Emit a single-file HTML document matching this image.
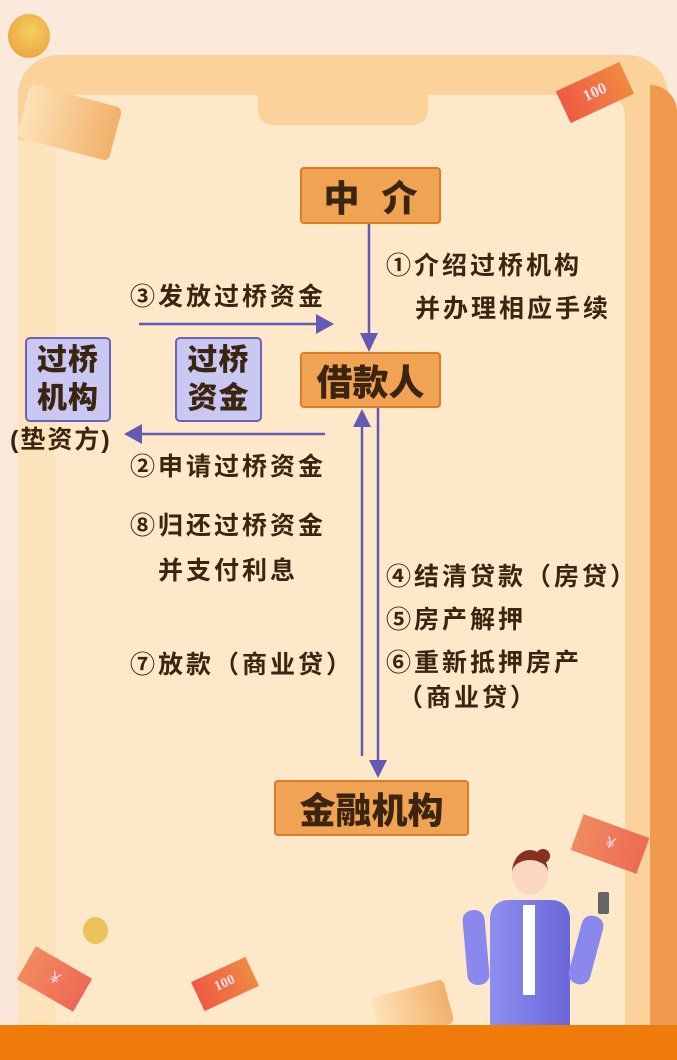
<!DOCTYPE html>
<html><head><meta charset="utf-8"><style>
*{margin:0;padding:0;box-sizing:border-box}
body{width:677px;height:1060px;position:relative;overflow:hidden;background:linear-gradient(180deg,#fbe9dc,#f9e6d8);font-family:"Liberation Sans","Noto Sans CJK SC",sans-serif}
.a{position:absolute}
.t{position:absolute;font-size:25px;font-weight:bold;color:#3b2410;letter-spacing:3px;white-space:nowrap;line-height:1}
.box{position:absolute;background:#f0a352;border:2px solid #dd7a25;border-radius:4px;color:#3b2410;font-weight:900;display:flex;align-items:center;justify-content:center;white-space:nowrap}
.pb{position:absolute;background:#c9c8f2;border:2px solid #6c63b5;border-radius:5px;color:#3b2410;font-weight:900;font-size:30px;line-height:38px;text-align:center;letter-spacing:1px}
</style></head><body>
<div class="a" style="left:18px;top:55px;width:650px;height:1000px;background:#fbd39a;border-radius:40px 40px 0 0"></div>
<div class="a" style="left:650px;top:85px;width:27px;height:950px;background:#f09a50;border-radius:0 30px 0 0"></div>
<div class="a" style="left:18px;top:140px;width:37px;height:890px;background:#fde3bc"></div>
<div class="a" style="left:55px;top:95px;width:570px;height:935px;background:#fde9c9;border-radius:20px 20px 0 0"></div>
<div class="a" style="left:258px;top:90px;width:170px;height:35px;background:#fbd39a;border-radius:0 0 14px 14px"></div>
<div class="a" style="left:8px;top:14px;width:42px;height:44px;border-radius:50%;background:radial-gradient(circle at 55% 40%,#f4d060,#e89a3a)"></div>
<div class="a" style="left:22px;top:95px;width:95px;height:55px;background:linear-gradient(90deg,#fde2b8,#f2b06a);border-radius:6px;transform:rotate(15deg)"></div>
<div class="a" style="left:560px;top:75px;width:70px;height:35px;background:linear-gradient(90deg,#ee5a45,#f08a40);transform:rotate(-25deg);color:#fde;font:bold 16px 'Liberation Serif',serif;text-align:center;line-height:35px">100</div>
<div class="a" style="left:575px;top:825px;width:70px;height:38px;background:linear-gradient(90deg,#f08a60,#ee6a55);transform:rotate(20deg);color:#fde;text-align:center;line-height:38px">¥</div>
<div class="a" style="left:22px;top:960px;width:65px;height:38px;background:linear-gradient(90deg,#f08a60,#ee6a55);transform:rotate(30deg);color:#fde;text-align:center;line-height:38px">¥</div>
<div class="a" style="left:195px;top:968px;width:60px;height:32px;background:linear-gradient(90deg,#ee5a45,#f08a40);transform:rotate(-25deg);color:#fde;font:bold 14px 'Liberation Serif',serif;text-align:center;line-height:32px">100</div>
<div class="a" style="left:83px;top:917px;width:25px;height:27px;border-radius:50%;background:#ecc25a"></div>
<div class="a" style="left:375px;top:988px;width:75px;height:45px;background:linear-gradient(90deg,#fde2b8,#f2b06a);border-radius:5px;transform:rotate(-15deg)"></div>
<!-- woman -->
<div class="a" style="left:512px;top:850px;width:36px;height:45px;border-radius:50%;background:#fbd6c0;border-top:10px solid #8a3020"></div>
<div class="a" style="left:536px;top:849px;width:14px;height:14px;border-radius:50%;background:#8a3020"></div>
<div class="a" style="left:490px;top:900px;width:80px;height:125px;background:linear-gradient(90deg,#8d8ef0,#6a66d8);border-radius:18px 18px 0 0"></div>
<div class="a" style="left:523px;top:905px;width:12px;height:90px;background:#fff"></div>
<div class="a" style="left:465px;top:910px;width:22px;height:75px;background:#8a88ec;border-radius:10px;transform:rotate(-5deg)"></div>
<div class="a" style="left:575px;top:915px;width:22px;height:70px;background:#8a88ec;border-radius:10px;transform:rotate(15deg)"></div>
<div class="a" style="left:598px;top:892px;width:11px;height:22px;background:#666;border-radius:2px"></div>
<div class="a" style="left:0;top:1025px;width:677px;height:35px;background:#ee7b0a"></div>

<svg class="a" style="left:0;top:0" width="677" height="1060">
<g stroke="#6459b3" stroke-width="2.5" fill="#6459b3">
<line x1="369" y1="224" x2="369" y2="335"/><polygon points="360,333 378,333 369,352" stroke="none"/>
<line x1="139" y1="324" x2="318" y2="324"/><polygon points="316,314 316,334 334,324" stroke="none"/>
<line x1="325" y1="434" x2="140" y2="434"/><polygon points="142,424 142,444 124,434" stroke="none"/>
<line x1="362" y1="425" x2="362" y2="756"/><polygon points="353,427 371,427 362,409" stroke="none"/>
<line x1="378" y1="408" x2="378" y2="762"/><polygon points="369,760 387,760 378,778" stroke="none"/>
</g></svg>

<div class="box" style="left:300px;top:167px;width:141px;height:57px;font-size:36px;letter-spacing:22px;padding-left:22px">中介</div>
<div class="box" style="left:300px;top:352px;width:141px;height:56px;font-size:36px">借款人</div>
<div class="box" style="left:274px;top:780px;width:195px;height:56px;font-size:36px">金融机构</div>
<div class="pb" style="left:25px;top:337px;width:86px;height:85px;padding-top:3px">过桥<br>机构</div>
<div class="pb" style="left:175px;top:337px;width:87px;height:85px;padding-top:3px">过桥<br>资金</div>

<div class="t" style="left:386px;top:254px">①介绍过桥机构</div>
<div class="t" style="left:415px;top:297px">并办理相应手续</div>
<div class="t" style="left:130px;top:285px">③发放过桥资金</div>
<div class="t" style="left:10px;top:428px;letter-spacing:2px">(垫资方)</div>
<div class="t" style="left:130px;top:455px">②申请过桥资金</div>
<div class="t" style="left:130px;top:514px">⑧归还过桥资金</div>
<div class="t" style="left:158px;top:559px">并支付利息</div>
<div class="t" style="left:130px;top:653px">⑦放款（商业贷）</div>
<div class="t" style="left:386px;top:565px">④结清贷款（房贷）</div>
<div class="t" style="left:386px;top:608px">⑤房产解押</div>
<div class="t" style="left:386px;top:651px">⑥重新抵押房产</div>
<div class="t" style="left:398px;top:686px">（商业贷）</div>
</body></html>
